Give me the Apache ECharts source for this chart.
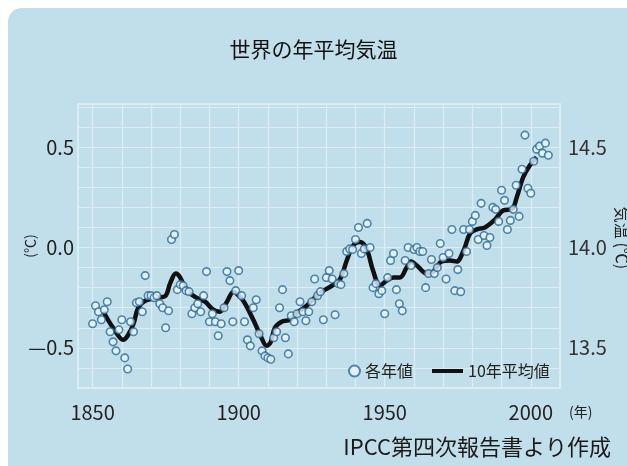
<!DOCTYPE html>
<html>
<head>
<meta charset="utf-8">
<script src="https://cdn.jsdelivr.net/npm/echarts@6.0.0/dist/echarts.min.js"></script>
<style>
  html, body { margin: 0; padding: 0; background: #fff; }
  #chart { width: 627px; height: 466px; }
</style>
</head>
<body>
<div id="chart"></div>
<script>
(function () {

    // annual anomaly (deg C), 1850..2006
    var START_YEAR = 1850;
    var ANNUAL = [
        -0.38, -0.29, -0.32, -0.36, -0.31, -0.27, -0.42, -0.47, -0.515, -0.41,
        -0.36, -0.55, -0.605, -0.37, -0.42, -0.275, -0.27, -0.32, -0.14, -0.24,
        -0.24, -0.25, -0.24, -0.28, -0.30, -0.40, -0.315, 0.04, 0.065, -0.21,
        -0.185, -0.19, -0.215, -0.22, -0.33, -0.30, -0.28, -0.32, -0.24, -0.12,
        -0.37, -0.33, -0.37, -0.44, -0.38, -0.30, -0.12, -0.165, -0.37, -0.215,
        -0.115, -0.24, -0.37, -0.46, -0.49, -0.30, -0.26, -0.43, -0.515, -0.54,
        -0.55, -0.557, -0.45, -0.42, -0.30, -0.21, -0.45, -0.53, -0.34, -0.37,
        -0.33, -0.27, -0.32, -0.365, -0.32, -0.27, -0.157, -0.24, -0.22, -0.36,
        -0.15, -0.115, -0.157, -0.335, -0.18, -0.185, -0.13, -0.02, -0.007, -0.01,
        0.04, 0.10, -0.03, -0.007, 0.12, 0.0, -0.20, -0.18, -0.23, -0.215,
        -0.33, -0.15, -0.065, -0.03, -0.21, -0.28, -0.315, -0.065, 0.0, -0.09,
        -0.01, 0.0, -0.02, -0.02, -0.20, -0.13, -0.06, -0.13, -0.10, 0.02,
        -0.05, -0.157, -0.03, 0.09, -0.215, -0.11, -0.22, 0.09, -0.02, 0.09,
        0.13, 0.16, 0.04, 0.22, 0.06, 0.01, 0.05, 0.20, 0.19, 0.13,
        0.285, 0.235, 0.09, 0.135, 0.19, 0.31, 0.155, 0.39, 0.56, 0.295,
        0.27, 0.43, 0.49, 0.505, 0.47, 0.52, 0.46
    ];

    // 10-year average curve
    var SMOOTH_YEARS = [
        1853.7, 1857, 1860.5, 1862, 1864, 1865.6, 1868, 1872, 1875, 1876.5,
        1878.5, 1880, 1882, 1885.5, 1888.5, 1891.3, 1893.5, 1896, 1898.2, 1899.3,
        1901.6, 1905, 1907.5, 1909.6, 1911, 1912.4, 1914.7, 1917.6, 1920.4, 1923.3,
        1926, 1929, 1932, 1934.7, 1937, 1939.2, 1941.5, 1943.8, 1946, 1948.4,
        1950.7, 1953, 1955.2, 1957.5, 1959, 1961, 1964.4, 1966.6, 1969.5, 1972.4,
        1974.6, 1977, 1979.2, 1981.5, 1984.3, 1987.8, 1990.6, 1993.5, 1995.2, 1997.4,
        1999.7, 2002
    ];
    var SMOOTH_VALUES = [
        -0.32, -0.40, -0.46, -0.44, -0.38, -0.30, -0.265, -0.25, -0.24, -0.18,
        -0.13, -0.15, -0.21, -0.25, -0.27, -0.31, -0.32, -0.27, -0.22, -0.23,
        -0.265, -0.36, -0.44, -0.49, -0.47, -0.40, -0.37, -0.36, -0.32, -0.29,
        -0.25, -0.215, -0.19, -0.157, -0.065, 0.01, 0.027, -0.007, -0.115, -0.19,
        -0.165, -0.15, -0.15, -0.10, -0.07, -0.09, -0.13, -0.12, -0.07, -0.065,
        -0.07, -0.015, 0.07, 0.09, 0.10, 0.14, 0.185, 0.19, 0.25, 0.35,
        0.41, 0.45
    ];

    var X_GRID_TICKS = [1850, 1860, 1870, 1880, 1890, 1900, 1910, 1920, 1930, 1940, 1950, 1960, 1970, 1980, 1990, 2000, 2010];
    var X_LABELS = [1850, 1900, 1950, 2000];
    var Y_LABELS = [-0.5, 0, 0.5];
    var Y2_LABELS = [13.5, 14.0, 14.5];

    var BG = '#c1dfeb';
    var LINE_LIGHT = '#dcedf4';
    var NUM_FONT = '"Liberation Sans Narrow", "Noto Sans CJK JP", sans-serif';
    var JP_FONT = '"Noto Sans CJK JP", sans-serif';

    var annualData = ANNUAL.map(function (v, i) { return [START_YEAR + i, v]; });
    var smoothData = SMOOTH_YEARS.map(function (y, i) { return [y, SMOOTH_VALUES[i]]; });

    function pick(list, v) {
        for (var i = 0; i < list.length; i++) {
            if (Math.abs(list[i] - v) < 1e-6) return true;
        }
        return false;
    }

    var chart = echarts.init(document.getElementById('chart'), null, { renderer: 'canvas' });

    var option = {
        animation: false,
        backgroundColor: '#fff',
        title: {
            text: '世界の年平均気温',
            left: 'center',
            top: 34,
            textStyle: { fontFamily: JP_FONT, fontSize: 21, fontWeight: 'normal', color: '#111' }
        },
        graphic: [
            {
                type: 'rect', z: -10, silent: true,
                shape: { x: 8, y: 8, width: 700, height: 520, r: 14 },
                style: { fill: BG }
            },
            {
                type: 'text', silent: true,
                style: {
                    x: 569, y: 412, text: '(年)', fill: '#222',
                    font: '14px ' + JP_FONT, verticalAlign: 'middle'
                }
            },
            {
                // right axis name, partly cut by the page edge like the original
                type: 'text', silent: true,
                x: 622, y: 238, rotation: -Math.PI / 2,
                style: {
                    text: '気温 (℃)', fill: '#222',
                    font: '16px ' + JP_FONT, align: 'center', verticalAlign: 'middle'
                }
            },
            {
                type: 'text', silent: true,
                style: {
                    x: 611, y: 447, text: 'IPCC第四次報告書より作成', fill: '#1a1a1a',
                    font: '22px ' + JP_FONT, align: 'right', verticalAlign: 'middle'
                }
            }
        ],
        legend: [
            {
                data: ['各年値'],
                left: 348, top: 363, padding: 0,
                itemWidth: 11, itemHeight: 11,
                textStyle: { fontFamily: JP_FONT, fontSize: 16, color: '#222' }
            },
            {
                data: [{ name: '10年平均値', icon: 'rect' }],
                left: 432, top: 363, padding: 0,
                itemWidth: 31, itemHeight: 4,
                textStyle: { fontFamily: JP_FONT, fontSize: 16, color: '#222' }
            }
        ],
        grid: {
            left: 78, right: 67, top: 104, bottom: 78,
            show: true, borderColor: '#e4f2f8', borderWidth: 1.5
        },
        xAxis: {
            type: 'value',
            min: 1845, max: 2010,
            axisLine: { show: false },
            axisTick: { show: false, customValues: X_GRID_TICKS },
            splitLine: { show: true, lineStyle: { color: LINE_LIGHT, width: 1.2 } },
            axisLabel: {
                customValues: X_LABELS,
                margin: 14,
                fontFamily: NUM_FONT, fontSize: 20, color: '#222',
                formatter: function (v) { return String(v); }
            }
        },
        yAxis: [
            {
                type: 'value',
                min: -0.7, max: 0.715, interval: 0.1,
                name: '(℃)', nameLocation: 'middle', nameRotate: 90, nameGap: 41,
                nameMoveOverlap: false,
                nameTextStyle: { fontFamily: JP_FONT, fontSize: 14, color: '#222' },
                axisLine: { show: false },
                axisTick: { show: false },
                splitLine: { show: true, lineStyle: { color: LINE_LIGHT, width: 1.2 } },
                axisLabel: {
                    margin: 4,
                    fontFamily: NUM_FONT, fontSize: 20, color: '#222',
                    formatter: function (v) {
                        if (!pick(Y_LABELS, v)) return '';
                        var s = Math.abs(v).toFixed(1);
                        return v < -1e-9 ? '—' + s : s;
                    }
                }
            },
            {
                type: 'value',
                position: 'right',
                min: 13.3, max: 14.715, interval: 0.1,
                axisLine: { show: false },
                axisTick: { show: false },
                splitLine: { show: false },
                axisLabel: {
                    margin: 8,
                    fontFamily: NUM_FONT, fontSize: 20, color: '#333',
                    formatter: function (v) {
                        return pick(Y2_LABELS, v) ? v.toFixed(1) : '';
                    }
                }
            }
        ],
        series: [
            {
                name: '10年平均値',
                type: 'line',
                data: smoothData,
                symbol: 'none',
                smooth: 0.35,
                z: 2,
                itemStyle: { color: '#111' },
                lineStyle: { color: '#111', width: 4.5 }
            },
            {
                name: '各年値',
                type: 'scatter',
                data: annualData,
                symbol: 'circle',
                symbolSize: 7.5,
                z: 3,
                itemStyle: { color: '#eaf5fb', borderColor: '#2a6a98', borderWidth: 1.6 }
            }
        ]
    };

    chart.setOption(option);

}());
</script>
</body>
</html>
